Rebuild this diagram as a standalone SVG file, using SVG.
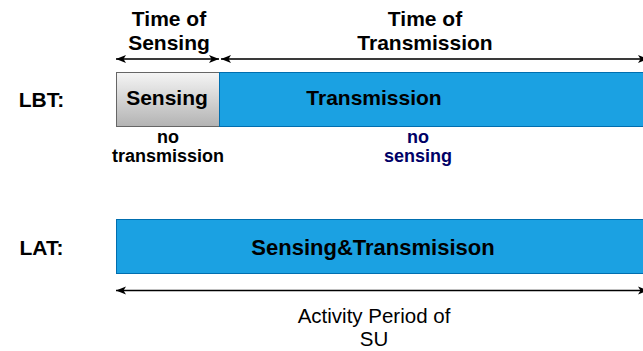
<svg xmlns="http://www.w3.org/2000/svg" width="643" height="351" viewBox="0 0 643 351">
<defs>
<linearGradient id="gray" x1="0" y1="0" x2="0" y2="1">
<stop offset="0" stop-color="#f5f5f5"/>
<stop offset="1" stop-color="#b3b3b3"/>
</linearGradient>
<marker id="ah" markerWidth="12" markerHeight="10" refX="11" refY="5" orient="auto-start-reverse" markerUnits="userSpaceOnUse">
<path d="M1,1 L11,5 L1,9 L3.5,5 Z" fill="#000"/>
</marker>
</defs>
<style>
.b{font-family:"Liberation Sans",Arial,sans-serif;font-weight:bold;font-size:21px;fill:#000;text-anchor:middle}
.s{font-family:"Liberation Sans",Arial,sans-serif;font-weight:bold;font-size:18px;fill:#000;text-anchor:middle}
.r{font-family:"Liberation Sans",Arial,sans-serif;font-size:20.5px;fill:#000;text-anchor:middle}
.blue{fill:#1ba1e2;stroke:#006eaf;stroke-width:1}
.arr{fill:none;stroke:#3a3a3a;stroke-width:2;marker-start:url(#ah);marker-end:url(#ah)}
</style>
<g id="label-lbt"><text class="b" x="41.5" y="107">LBT:</text></g>
<g id="label-lat"><text class="b" x="41.5" y="255">LAT:</text></g>
<g id="time-sensing"><text class="b" x="169" y="26">Time of</text><text class="b" x="169" y="50">Sensing</text></g>
<g id="time-transmission"><text class="b" x="425" y="26">Time of</text><text class="b" x="425" y="50">Transmission</text></g>
<g id="sensing"><rect x="116.5" y="72.5" width="103" height="54" fill="url(#gray)" stroke="#666" stroke-width="1"/><text class="b" x="167" y="105">Sensing</text></g>
<g id="transmission"><rect class="blue" x="219.5" y="72.5" width="440" height="54"/><text class="b" x="374" y="105">Transmission</text></g>
<g id="no-transmission"><text class="s" x="168" y="143">no</text><text class="s" x="168" y="162">transmission</text></g>
<g id="no-sensing"><text class="s" x="418" y="143" style="fill:#000066">no</text><text class="s" x="418" y="162" style="fill:#000066">sensing</text></g>
<g id="lat-box"><rect class="blue" x="116.5" y="219.5" width="540" height="54"/><text class="b" x="373" y="255" style="font-size:22px">Sensing&amp;Transmisison</text></g>
<g id="activity"><text class="r" x="374" y="323">Activity Period of</text><text class="r" x="374" y="346">SU</text></g>
<g id="connectors">
<line class="arr" x1="116" y1="59" x2="219" y2="59"/>
<line class="arr" x1="221" y1="59" x2="648" y2="59"/>
<line x1="116" y1="290.5" x2="648" y2="290.5" stroke="#000" stroke-width="1.3" marker-start="url(#ah)" marker-end="url(#ah)"/>
</g>
</svg>
